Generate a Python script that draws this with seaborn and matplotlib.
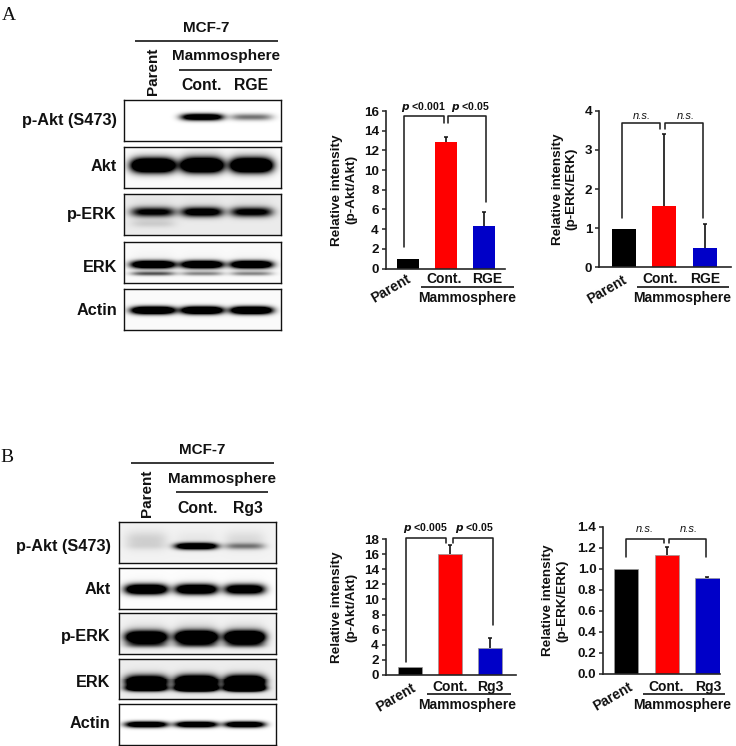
import matplotlib
matplotlib.use("Agg")
import matplotlib.pyplot as plt
import numpy as np
import seaborn as sns

W, H = 736, 746

# bar values
groups_a = ["Parent", "Cont.", "RGE"]
groups_b = ["Parent", "Cont.", "Rg3"]
colors = ["#000000", "#ff0000", "#0000c8"]

a_akt_vals = [1.0, 12.9, 4.3]
a_akt_tops = [1.0, 13.4, 5.7]
a_erk_vals = [0.97, 1.57, 0.49]
a_erk_tops = [0.97, 3.4, 1.1]
b_akt_vals = [1.0, 16.0, 3.6]
b_akt_tops = [1.0, 17.2, 4.9]
b_erk_vals = [1.0, 1.13, 0.91]
b_erk_tops = [1.0, 1.21, 0.92]

# blot darkness per lane, main band / lower band / haze
row_names = ["p-Akt (S473)", "Akt", "p-ERK", "ERK", "Actin"]
a_band = [[0, 1.6, 0.55], [2.2, 2.2, 2.2], [1.05, 1.25, 1.1], [1.9, 1.9, 1.9], [2.0, 2.0, 2.0]]
a_lower = [[0, 0, 0], [0, 0, 0], [0.12, 0, 0], [0.65, 0.45, 0.45], [0, 0, 0]]
a_haze = [[0, 0, 0], [0.05, 0.16, 0.12], [0.04, 0.04, 0.04], [0.03, 0.02, 0.02], [0, 0, 0]]
a_bg = [0.0, 0.02, 0.08, 0.02, 0.02]

b_band = [[0.04, 1.7, 0.45], [1.9, 1.8, 1.6], [1.9, 2.2, 2.2], [1.9, 2.3, 2.3], [1.7, 1.7, 1.7]]
b_lower = [[0, 0, 0], [0, 0, 0], [0.4, 0.4, 0.4], [1.3, 1.9, 1.9], [0, 0, 0]]
b_haze = [[0.14, 0.05, 0.1], [0.02, 0.02, 0.02], [0.09, 0.13, 0.11], [0.03, 0.03, 0.03], [0, 0, 0]]
b_bg = [0.05, 0.01, 0.05, 0.07, 0.0]

sns.set_style("ticks")
plt.rcParams["font.family"] = ["Liberation Sans", "DejaVu Sans"]
plt.rcParams["font.weight"] = "bold"

fig = plt.figure(figsize=(W / 100, H / 100), dpi=100)


def px_axes(left, top, right, bottom):
    return fig.add_axes([left / W, 1 - bottom / H, (right - left) / W, (bottom - top) / H])


over = px_axes(0, 0, W, H)
over.set_xlim(0, W)
over.set_ylim(H, 0)
over.axis("off")
over.set_zorder(5)


def label(x, y, s, size=10, **kw):
    kw.setdefault("ha", "center")
    over.text(x, y, s, fontsize=size, va="center", color="#111111", **kw)


def rule(x0, x1, y):
    over.plot([x0, x1], [y, y], color="black", lw=1.1, solid_capstyle="butt")


def bracket(xs, ys):
    over.plot(xs, ys, color="#222222", lw=1.15, solid_joinstyle="round")


def bar_panel(box, first, step, width, names, vals, tops, ymax, yticks, fmt, ylab, lab_off, edge):
    left, top, right, bottom = box
    ax = px_axes(left, top, right, bottom)
    sns.barplot(x=names, y=vals, hue=names, palette=colors, order=names, hue_order=names,
                saturation=1, width=width / step, legend=False, errorbar=None,
                edgecolor=edge, linewidth=0.5 if edge != "none" else 0, zorder=2, ax=ax)
    for i in range(3):
        if tops[i] > vals[i]:
            # only the upper whisker is drawn, the lower cap would show over the bar
            ax.vlines(i, vals[i], tops[i], color="#111111", lw=1.2, zorder=1)
            ax.plot(i, tops[i], marker="_", ms=3, mew=1.1, color="#111111", zorder=1)
    ax.set_xlim((left - first) / step, (right - first) / step)
    ax.set_ylim(0, ymax)
    ax.set_xticks([])
    ax.set_yticks(yticks)
    ax.set_yticklabels([fmt % t for t in yticks], fontsize=9.7, fontweight="bold", color="#111111")
    ax.tick_params(axis="y", length=3, width=1.1, pad=2)
    ax.set_ylabel(ylab, fontsize=9.7, fontweight="bold", color="#111111", va="center",
                  linespacing=1.2, labelpad=0)
    ax.yaxis.set_label_coords(-lab_off / (right - left), 0.5)
    ax.patch.set_alpha(0)
    sns.despine(ax=ax)
    for s in ["left", "bottom"]:
        ax.spines[s].set_linewidth(1.2)
    return ax


def blot_panel(rows_y, x0, x1, centers, halfw, band_y, band_h, lower_y, lower_h, band, lower, haze, bg):
    for r, (y0, y1) in enumerate(rows_y):
        ax = px_axes(x0, y0, x1, y1)
        nx, ny = int(round(x1 - x0)), int(round(y1 - y0))
        xx, yy = np.meshgrid(np.arange(nx) + x0 + 0.5, np.arange(ny) + 0.5)
        dark = np.full((ny, nx), float(bg[r]))
        for c, hw, b, lo, hz in zip(centers, halfw, band[r], lower[r], haze[r]):
            ends = ((xx - c) / hw) ** 4
            dark += b * np.exp(-ends - ((yy - band_y[r] * ny) / band_h[r]) ** 2)
            dark += lo * np.exp(-ends - ((yy - lower_y[r] * ny) / lower_h[r]) ** 2)
            dark += hz * np.exp(-ends - ((yy - (band_y[r] * ny - 6)) / 9.0) ** 2)
        sns.heatmap(1 - np.clip(dark, 0, 1), cmap="gray", vmin=0, vmax=1, cbar=False,
                    xticklabels=False, yticklabels=False, ax=ax, rasterized=True)
        for s in ax.spines.values():
            s.set_visible(True)
            s.set_linewidth(1.0)
            s.set_color("#111111")


# panel A
label(9, 15, "A", size=14, family="Liberation Serif", fontweight="normal")
a_rows = [(99.5, 141), (147, 188), (194, 235), (242, 283), (289, 330)]
blot_panel(a_rows, 124.5, 281, [152.7, 201.7, 251], [22, 21, 21],
           [0.43, 0.45, 0.44, 0.55, 0.52], [3.4, 7, 4.8, 3.8, 3.8],
           [0.6, 0.6, 0.72, 0.77, 0.6], [2, 2, 4, 2.2, 2],
           a_band, a_lower, a_haze, a_bg)
label(206, 27.7, "MCF-7", 11)
rule(135, 277.7, 41.3)
label(226, 56, "Mammosphere", 11)
rule(179, 272, 70.3)
label(201.7, 85.7, "Cont.", 11.3)
label(251, 85.7, "RGE", 11.3)
label(153.3, 71.7, "Parent", 11, rotation=90)
for y, s in zip([120, 166.7, 214, 267, 310.7], row_names):
    label(117, y, s, 11.7, ha="right")

bar_panel((385.7, 111, 505, 268.5), 408, 38, 22, groups_a, a_akt_vals, a_akt_tops, 16,
          list(range(0, 17, 2)), "%d", "Relative intensity\n(p-Akt/Akt)", 41.7, "none")
bracket([404.3, 404.3, 444, 444], [246.7, 116, 116, 123.3])
bracket([448, 448, 486, 486], [123.3, 116, 116, 201.7])
label(423, 107, "$\\mathbfit{p}$ <0.001", 7.6)
label(470, 107, "$\\mathbfit{p}$ <0.05", 7.6)
label(391, 288.3, "Parent", 10, rotation=30)
label(444.3, 279, "Cont.", 10)
label(487.3, 279, "RGE", 10)
rule(420.7, 514, 286.7)
label(466.7, 297.7, "Mammosphere", 10)

bar_panel((599.3, 110.7, 730.7, 267.3), 624, 40.3, 24, groups_a, a_erk_vals, a_erk_tops, 4,
          list(range(0, 5)), "%d", "Relative intensity\n(p-ERK/ERK)", 34.6, "none")
bracket([621.7, 621.7, 660.3, 660.3], [218.3, 123.3, 123.3, 129.3])
bracket([664.7, 664.7, 703.3, 703.3], [129.3, 123.3, 123.3, 217.7])
label(642, 116, "n.s.", 8, style="italic", fontweight="normal")
label(685.7, 116, "n.s.", 8, style="italic", fontweight="normal")
label(606.7, 290, "Parent", 10, rotation=30)
label(660.3, 279, "Cont.", 10)
label(705, 279, "RGE", 10)
rule(636.7, 729.3, 286.7)
label(682.3, 297.7, "Mammosphere", 10)

# panel B
label(6.5, 457, "B", size=14, family="Liberation Serif", fontweight="normal")
b_rows = [(522.3, 563.3), (567.7, 608.7), (613.3, 654), (658.7, 699.3), (704.3, 745)]
blot_panel(b_rows, 119.3, 276, [146.7, 196.7, 245], [21, 21, 20],
           [0.59, 0.52, 0.59, 0.57, 0.5], [3.2, 5, 6, 6.5, 3],
           [0.6, 0.6, 0.78, 0.74, 0.6], [2, 2, 3, 3, 2],
           b_band, b_lower, b_haze, b_bg)
label(202, 450, "MCF-7", 11)
rule(131.3, 274, 463.3)
label(222.3, 479, "Mammosphere", 11)
rule(175.7, 268.3, 492.3)
label(198, 508.3, "Cont.", 11.3)
label(247.7, 508.3, "Rg3", 11.3)
label(147.3, 493.3, "Parent", 11, rotation=90)
for y, s in zip([546.7, 590, 636.7, 682.3, 723.3], row_names):
    label(110.7, y, s, 11.7, ha="right")

bar_panel((385.7, 539.3, 515.7, 674.7), 410, 40, 24, groups_b, b_akt_vals, b_akt_tops, 18,
          list(range(0, 19, 2)), "%d", "Relative intensity\n(p-Akt/Akt)", 41.7, "#999999")
bracket([406.3, 406.3, 446, 446], [661.7, 538.3, 538.3, 543.3])
bracket([453.3, 453.3, 492.7, 492.7], [543.3, 538.3, 538.3, 625])
label(425.3, 528.3, "$\\mathbfit{p}$ <0.005", 7.6)
label(474, 528.3, "$\\mathbfit{p}$ <0.05", 7.6)
label(396, 697.7, "Parent", 10, rotation=30)
label(450, 686.7, "Cont.", 10)
label(490, 686.7, "Rg3", 10)
rule(427.3, 510.7, 694)
label(467.3, 705, "Mammosphere", 10)

bar_panel((603.3, 526.7, 720, 674), 626, 40.7, 24.3, groups_b, b_erk_vals, b_erk_tops, 1.4,
          [0, 0.2, 0.4, 0.6, 0.8, 1.0, 1.2, 1.4], "%.1f", "Relative intensity\n(p-ERK/ERK)", 48, "#999999")
bracket([626, 626, 664.3, 664.3], [556.7, 539, 539, 543.3])
bracket([669.3, 669.3, 706, 706], [543.3, 539, 539, 556.7])
label(645.3, 529.3, "n.s.", 8, style="italic", fontweight="normal")
label(689, 529.3, "n.s.", 8, style="italic", fontweight="normal")
label(612.7, 696.7, "Parent", 10, rotation=30)
label(665.7, 686.7, "Cont.", 10)
label(708.3, 686.7, "Rg3", 10)
rule(642.7, 725, 694)
label(681.7, 705, "Mammosphere", 10)

fig.savefig("out.png", dpi=100)
